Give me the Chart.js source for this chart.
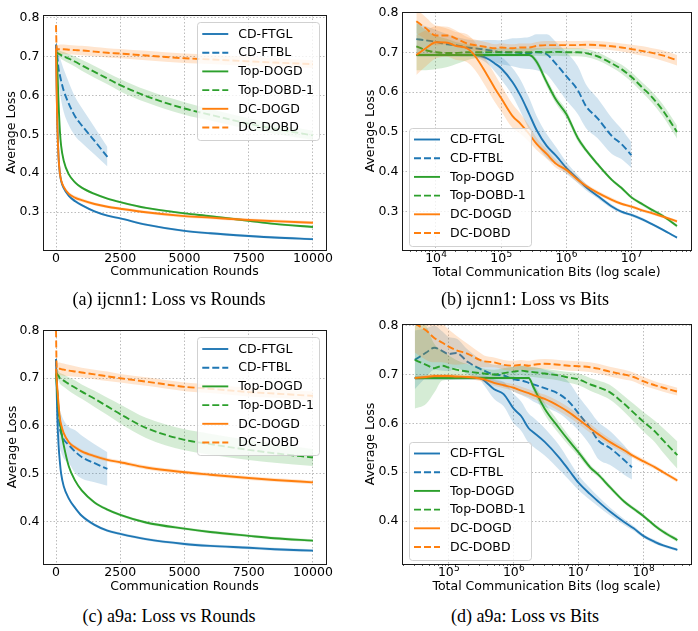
<!DOCTYPE html>
<html>
<head>
<meta charset="utf-8">
<script src="https://cdn.jsdelivr.net/npm/chart.js@4.4.0/dist/chart.umd.min.js"></script>
<style>
body{margin:0;background:#fff;width:698px;height:631px;position:relative;overflow:hidden;}
canvas{position:absolute;}
.cap{position:absolute;width:300px;text-align:center;font-family:'Liberation Serif','Times New Roman',serif;font-size:18px;line-height:20px;color:#000;}
</style>
</head>
<body>
<canvas id="cA" width="345" height="290" style="left:0;top:0"></canvas>
<canvas id="cB" width="353" height="290" style="left:345px;top:0"></canvas>
<canvas id="cC" width="345" height="300" style="left:0;top:300px"></canvas>
<canvas id="cD" width="353" height="300" style="left:345px;top:300px"></canvas>
<div class="cap" style="left:19px;top:289px">(a) ijcnn1: Loss vs Rounds</div>
<div class="cap" style="left:375px;top:289px">(b) ijcnn1: Loss vs Bits</div>
<div class="cap" style="left:19px;top:606px">(c) a9a: Loss vs Rounds</div>
<div class="cap" style="left:375px;top:606px">(d) a9a: Loss vs Bits</div>
<script>
// ---- series names / tick labels ----
const SERIES = ['CD-FTGL', 'CD-FTBL', 'Top-DOGD', 'Top-DOBD-1', 'DC-DOGD', 'DC-DOBD'];
const roundTicks = [0, 2500, 5000, 7500, 10000];
const lossTicksIjcnn = [0.3, 0.4, 0.5, 0.6, 0.7, 0.8];
const lossTicksA9a = [0.4, 0.5, 0.6, 0.7, 0.8];

// ---- rounds axis (panels a, c) ----
const roundsX = [0, 25, 50, 100, 150, 200, 300, 500, 750, 1000, 1500, 2000, 2500, 3500, 5000, 6000, 7500, 8500, 10000];

// (a) ijcnn1, loss vs rounds
const aFtgl      = [0.73, 0.62, 0.53, 0.44, 0.40, 0.38, 0.362, 0.342, 0.328, 0.318, 0.302, 0.291, 0.284, 0.268, 0.252, 0.246, 0.239, 0.235, 0.231];
const aFtglBand  = [0.01, 0.01, 0.008, 0.006, 0.005, 0.005, 0.004, 0.004, 0.004, 0.003, 0.003, 0.003, 0.003, 0.003, 0.003, 0.003, 0.003, 0.003, 0.003];
const aFtbl      = [0.73, 0.715, 0.70, 0.668, 0.652, 0.637, 0.612, 0.578, 0.545, 0.523, 0.483, 0.442];
const aFtblBand  = [0.01, 0.02, 0.03, 0.04, 0.045, 0.05, 0.055, 0.055, 0.05, 0.045, 0.035, 0.025];
const aTopOgd    = [0.71, 0.70, 0.67, 0.58, 0.51, 0.47, 0.432, 0.397, 0.376, 0.363, 0.347, 0.335, 0.326, 0.311, 0.297, 0.290, 0.278, 0.270, 0.262];
const aTopOgdBand= [0.005, 0.005, 0.005, 0.005, 0.004, 0.004, 0.004, 0.003, 0.003, 0.003, 0.003, 0.003, 0.003, 0.003, 0.003, 0.003, 0.003, 0.003, 0.003];
const aTopObd    = [0.71, 0.71, 0.709, 0.707, 0.705, 0.703, 0.70, 0.694, 0.686, 0.677, 0.66, 0.643, 0.626, 0.598, 0.566, 0.55, 0.527, 0.514, 0.497];
const aTopObdBand= [0.005, 0.006, 0.007, 0.008, 0.009, 0.01, 0.011, 0.012, 0.013, 0.014, 0.015, 0.015, 0.016, 0.016, 0.016, 0.015, 0.014, 0.013, 0.012];
const aDcOgd     = [0.72, 0.61, 0.53, 0.44, 0.40, 0.382, 0.365, 0.347, 0.337, 0.331, 0.321, 0.314, 0.309, 0.300, 0.290, 0.286, 0.280, 0.277, 0.273];
const aDcOgdBand = [0.01, 0.01, 0.008, 0.006, 0.005, 0.005, 0.005, 0.005, 0.005, 0.005, 0.004, 0.004, 0.004, 0.004, 0.004, 0.004, 0.004, 0.004, 0.004];
const aDcObd     = [0.78, 0.72, 0.718, 0.718, 0.718, 0.718, 0.718, 0.717, 0.716, 0.715, 0.712, 0.709, 0.707, 0.702, 0.695, 0.692, 0.687, 0.684, 0.68];
const aDcObdBand = [0.01, 0.01, 0.01, 0.011, 0.012, 0.012, 0.012, 0.012, 0.012, 0.012, 0.012, 0.012, 0.012, 0.012, 0.012, 0.012, 0.012, 0.011, 0.01];

// (c) a9a, loss vs rounds
const cFtgl      = [0.74, 0.68, 0.62, 0.56, 0.525, 0.50, 0.474, 0.448, 0.428, 0.412, 0.393, 0.381, 0.374, 0.363, 0.353, 0.349, 0.345, 0.342, 0.339];
const cFtglBand  = [0.01, 0.01, 0.008, 0.006, 0.005, 0.005, 0.004, 0.004, 0.003, 0.003, 0.003, 0.003, 0.003, 0.003, 0.003, 0.003, 0.003, 0.003, 0.003];
const cFtbl      = [0.74, 0.70, 0.67, 0.625, 0.595, 0.585, 0.572, 0.56, 0.546, 0.535, 0.522, 0.51];
const cFtblBand  = [0.02, 0.03, 0.035, 0.04, 0.04, 0.04, 0.04, 0.038, 0.045, 0.045, 0.04, 0.035];
const cTopOgd    = [0.71, 0.69, 0.67, 0.635, 0.61, 0.59, 0.56, 0.515, 0.485, 0.465, 0.44, 0.425, 0.414, 0.398, 0.385, 0.378, 0.370, 0.365, 0.360];
const cTopOgdBand= [0.005, 0.005, 0.005, 0.005, 0.004, 0.004, 0.004, 0.004, 0.003, 0.003, 0.003, 0.003, 0.003, 0.003, 0.003, 0.003, 0.003, 0.003, 0.003];
const cTopObd    = [0.71, 0.71, 0.708, 0.705, 0.70, 0.698, 0.695, 0.688, 0.68, 0.672, 0.657, 0.641, 0.625, 0.596, 0.571, 0.562, 0.55, 0.543, 0.534];
const cTopObdBand= [0.006, 0.008, 0.01, 0.01, 0.011, 0.012, 0.013, 0.014, 0.015, 0.015, 0.017, 0.018, 0.02, 0.021, 0.022, 0.022, 0.021, 0.02, 0.018];
const cDcOgd     = [0.72, 0.70, 0.68, 0.645, 0.617, 0.603, 0.585, 0.566, 0.555, 0.547, 0.537, 0.529, 0.524, 0.513, 0.503, 0.498, 0.491, 0.487, 0.482];
const cDcOgdBand = [0.008, 0.008, 0.007, 0.006, 0.005, 0.005, 0.004, 0.004, 0.004, 0.004, 0.004, 0.004, 0.004, 0.004, 0.004, 0.004, 0.004, 0.004, 0.004];
const cDcObd     = [0.80, 0.725, 0.72, 0.72, 0.72, 0.719, 0.718, 0.716, 0.714, 0.712, 0.708, 0.704, 0.70, 0.693, 0.682, 0.678, 0.671, 0.668, 0.663];
const cDcObdBand = [0.01, 0.01, 0.012, 0.013, 0.013, 0.013, 0.013, 0.012, 0.011, 0.01, 0.01, 0.01, 0.009, 0.009, 0.009, 0.009, 0.009, 0.009, 0.009];

// (b) ijcnn1, loss vs total bits
const bBits = [5e3, 7e3, 1e4, 1.5e4, 2e4, 3e4, 4e4, 6e4, 8e4, 1e5, 1.5e5, 2e5, 2.7e5, 3.5e5, 5e5, 7e5, 1e6, 1.5e6, 2e6, 3e6, 5e6, 7e6, 1e7, 1.5e7, 2e7, 3e7, 5e7];
const bFtgl      = [0.693, 0.693, 0.693, 0.693, 0.693, 0.693, 0.693, 0.685, 0.672, 0.66, 0.625, 0.59, 0.545, 0.505, 0.465, 0.44, 0.41, 0.382, 0.362, 0.34, 0.313, 0.30, 0.292, 0.28, 0.27, 0.255, 0.235];
const bFtglBand  = [0.004, 0.004, 0.004, 0.004, 0.004, 0.005, 0.006, 0.012, 0.02, 0.028, 0.035, 0.04, 0.04, 0.035, 0.03, 0.022, 0.015, 0.01, 0.008, 0.006, 0.005, 0.004, 0.004, 0.004, 0.003, 0.003, 0.003];
const bFtbl      = [0.733, 0.73, 0.726, 0.72, 0.718, 0.712, 0.71, 0.706, 0.703, 0.70, 0.70, 0.698, 0.698, 0.70, 0.695, 0.67, 0.64, 0.605, 0.565, 0.535, 0.49, 0.47, 0.442];
const bFtblBand  = [0.04, 0.035, 0.03, 0.025, 0.02, 0.02, 0.02, 0.025, 0.028, 0.03, 0.035, 0.038, 0.04, 0.045, 0.05, 0.055, 0.06, 0.06, 0.055, 0.05, 0.045, 0.038, 0.032];
const bTopOgd    = [0.693, 0.693, 0.693, 0.693, 0.693, 0.693, 0.693, 0.693, 0.693, 0.693, 0.693, 0.693, 0.693, 0.676, 0.625, 0.58, 0.545, 0.485, 0.455, 0.42, 0.38, 0.36, 0.336, 0.318, 0.306, 0.29, 0.264];
const bTopOgdBand= [0.003, 0.003, 0.003, 0.003, 0.003, 0.003, 0.003, 0.003, 0.003, 0.003, 0.003, 0.003, 0.003, 0.008, 0.01, 0.01, 0.01, 0.008, 0.006, 0.005, 0.004, 0.004, 0.004, 0.004, 0.004, 0.004, 0.004];
const bTopObd    = [0.715, 0.705, 0.70, 0.698, 0.698, 0.70, 0.70, 0.70, 0.70, 0.70, 0.70, 0.70, 0.70, 0.701, 0.70, 0.701, 0.70, 0.70, 0.698, 0.69, 0.672, 0.658, 0.638, 0.61, 0.59, 0.555, 0.50];
const bTopObdBand= [0.06, 0.05, 0.042, 0.035, 0.028, 0.02, 0.015, 0.012, 0.01, 0.01, 0.01, 0.01, 0.01, 0.01, 0.01, 0.01, 0.01, 0.01, 0.01, 0.01, 0.01, 0.011, 0.012, 0.013, 0.014, 0.015, 0.016];
const bDcOgd     = [0.693, 0.71, 0.725, 0.724, 0.716, 0.71, 0.69, 0.645, 0.61, 0.585, 0.54, 0.52, 0.495, 0.47, 0.445, 0.42, 0.405, 0.38, 0.365, 0.348, 0.33, 0.32, 0.313, 0.303, 0.297, 0.288, 0.276];
const bDcOgdBand = [0.05, 0.045, 0.04, 0.035, 0.035, 0.035, 0.035, 0.035, 0.035, 0.033, 0.03, 0.025, 0.02, 0.015, 0.012, 0.01, 0.008, 0.007, 0.006, 0.005, 0.005, 0.004, 0.004, 0.004, 0.004, 0.004, 0.004];
const bDcObd     = [0.778, 0.76, 0.742, 0.742, 0.735, 0.722, 0.718, 0.713, 0.71, 0.712, 0.71, 0.712, 0.712, 0.716, 0.718, 0.718, 0.718, 0.718, 0.719, 0.718, 0.715, 0.712, 0.708, 0.703, 0.699, 0.692, 0.68];
const bDcObdBand = [0.03, 0.028, 0.025, 0.022, 0.02, 0.016, 0.014, 0.012, 0.01, 0.01, 0.01, 0.01, 0.01, 0.01, 0.01, 0.01, 0.01, 0.01, 0.01, 0.01, 0.01, 0.01, 0.011, 0.012, 0.012, 0.013, 0.013];

// (d) a9a, loss vs total bits
const dBits = [3e4, 4.5e4, 6e4, 8e4, 1e5, 1.3e5, 2e5, 3e5, 3.5e5, 5e5, 7e5, 1e6, 1.3e6, 1.7e6, 2e6, 3e6, 5e6, 7e6, 1e7, 1.5e7, 2e7, 3e7, 5e7, 7e7, 1e8, 1.5e8, 2e8, 3.3e8];
const dFtblBits = [3e4, 4.5e4, 6e4, 8e4, 1e5, 1.3e5, 2e5, 3e5, 3.5e5, 5e5, 7e5, 1e6, 1.3e6, 1.7e6, 2e6, 3e6, 5e6, 7e6, 1e7, 1.5e7, 2e7, 3e7, 5e7, 6.6e7];
const dFtgl      = [0.693, 0.693, 0.693, 0.693, 0.693, 0.693, 0.693, 0.693, 0.688, 0.67, 0.66, 0.63, 0.615, 0.59, 0.582, 0.562, 0.53, 0.505, 0.478, 0.455, 0.44, 0.42, 0.398, 0.385, 0.369, 0.357, 0.35, 0.341];
const dFtglBand  = [0.004, 0.004, 0.004, 0.004, 0.004, 0.004, 0.004, 0.004, 0.01, 0.02, 0.025, 0.03, 0.03, 0.03, 0.03, 0.028, 0.025, 0.02, 0.015, 0.012, 0.01, 0.008, 0.006, 0.005, 0.004, 0.004, 0.003, 0.003];
const dFtbl      = [0.73, 0.745, 0.755, 0.748, 0.742, 0.744, 0.725, 0.712, 0.708, 0.70, 0.698, 0.69, 0.688, 0.683, 0.68, 0.672, 0.66, 0.645, 0.62, 0.59, 0.565, 0.55, 0.525, 0.51];
const dFtblBand  = [0.06, 0.05, 0.045, 0.04, 0.035, 0.03, 0.025, 0.02, 0.02, 0.02, 0.022, 0.025, 0.03, 0.032, 0.035, 0.038, 0.04, 0.04, 0.035, 0.035, 0.038, 0.035, 0.03, 0.025];
const dTopOgd    = [0.693, 0.693, 0.693, 0.693, 0.693, 0.693, 0.693, 0.693, 0.693, 0.693, 0.693, 0.693, 0.693, 0.693, 0.675, 0.63, 0.59, 0.565, 0.54, 0.51, 0.495, 0.47, 0.44, 0.425, 0.41, 0.39, 0.378, 0.361];
const dTopOgdBand= [0.003, 0.003, 0.003, 0.003, 0.003, 0.003, 0.003, 0.003, 0.003, 0.003, 0.003, 0.003, 0.003, 0.003, 0.008, 0.012, 0.012, 0.01, 0.008, 0.006, 0.005, 0.005, 0.004, 0.004, 0.004, 0.004, 0.004, 0.004];
const dTopObd    = [0.73, 0.72, 0.713, 0.718, 0.714, 0.71, 0.706, 0.703, 0.702, 0.70, 0.703, 0.706, 0.708, 0.706, 0.705, 0.702, 0.698, 0.694, 0.69, 0.68, 0.674, 0.664, 0.64, 0.622, 0.603, 0.583, 0.565, 0.535];
const dTopObdBand= [0.1, 0.08, 0.05, 0.03, 0.025, 0.02, 0.015, 0.012, 0.01, 0.01, 0.01, 0.01, 0.01, 0.01, 0.01, 0.01, 0.01, 0.011, 0.012, 0.013, 0.014, 0.015, 0.016, 0.018, 0.02, 0.022, 0.025, 0.028];
const dDcOgd     = [0.693, 0.695, 0.697, 0.697, 0.697, 0.696, 0.695, 0.692, 0.69, 0.683, 0.678, 0.673, 0.667, 0.662, 0.658, 0.65, 0.635, 0.623, 0.608, 0.59, 0.578, 0.562, 0.545, 0.533, 0.522, 0.51, 0.50, 0.483];
const dDcOgdBand = [0.004, 0.004, 0.004, 0.004, 0.004, 0.004, 0.004, 0.005, 0.005, 0.006, 0.006, 0.007, 0.008, 0.008, 0.008, 0.009, 0.01, 0.01, 0.01, 0.009, 0.008, 0.007, 0.006, 0.005, 0.005, 0.004, 0.004, 0.004];
const dDcObd     = [0.805, 0.79, 0.775, 0.765, 0.757, 0.75, 0.742, 0.73, 0.727, 0.725, 0.72, 0.718, 0.72, 0.718, 0.72, 0.722, 0.72, 0.718, 0.717, 0.715, 0.712, 0.706, 0.70, 0.695, 0.686, 0.678, 0.673, 0.665];
const dDcObdBand = [0.06, 0.06, 0.05, 0.04, 0.035, 0.03, 0.02, 0.015, 0.012, 0.01, 0.01, 0.01, 0.01, 0.01, 0.01, 0.01, 0.01, 0.01, 0.01, 0.01, 0.01, 0.01, 0.01, 0.009, 0.009, 0.008, 0.008, 0.008];

// ---- styles ----
const LINE = ['#1f77b4', '#1f77b4', '#2ca02c', '#2ca02c', '#ff7f0e', '#ff7f0e'];
const BAND = ['rgba(31,119,180,0.2)', 'rgba(31,119,180,0.2)', 'rgba(44,160,44,0.2)', 'rgba(44,160,44,0.2)', 'rgba(255,127,14,0.2)', 'rgba(255,127,14,0.2)'];
const DASH = [false, true, false, true, false, true];
const GRID = '#b4b4b4';
const FONT = "'DejaVu Sans', sans-serif";

Chart.defaults.font.family = FONT;
Chart.defaults.color = '#000';

function buildSets(xs, ys, bands) {
    const sets = [];
    for (let i = 0; i < SERIES.length; i++) {
        const x = xs[i], y = ys[i], b = bands[i];
        const order = (SERIES.length - i) * 10;
        const pts = off => y.map((v, k) => ({x: x[k], y: v + off * b[k]}));
        const common = {pointRadius: 0, cubicInterpolationMode: 'monotone'};
        sets.push(Object.assign({}, common, {data: pts(1), borderWidth: 0, fill: false, order: order + 1}));
        sets.push(Object.assign({}, common, {data: pts(-1), borderWidth: 0, fill: '-1', backgroundColor: BAND[i], order: order + 1}));
        sets.push(Object.assign({}, common, {
            label: SERIES[i], data: pts(0), borderColor: LINE[i], borderWidth: 1.9,
            borderDash: DASH[i] ? [7, 3] : [], fill: false, order: order
        }));
    }
    return sets;
}

// box around the plot area
const frame = {
    id: 'frame',
    afterDatasetsDraw(chart) {
        const {ctx, chartArea: a} = chart;
        ctx.save();
        ctx.strokeStyle = '#1a1a1a';
        ctx.lineWidth = 1;
        ctx.strokeRect(Math.round(a.left) + 0.5, Math.round(a.top) + 0.5, Math.round(a.right - a.left), Math.round(a.bottom - a.top));
        ctx.restore();
    }
};

// "10^n" labels for the log axis, exponent raised like matplotlib mathtext
const powLabels = {
    id: 'powLabels',
    afterDraw(chart) {
        const s = chart.scales.x;
        if (s.type !== 'logarithmic') return;
        const ctx = chart.ctx;
        ctx.save();
        ctx.fillStyle = '#000';
        ctx.textBaseline = 'alphabetic';
        ctx.textAlign = 'left';
        s.ticks.forEach(t => {
            if (!isPow10(t.value)) return;
            const px = s.getPixelForValue(t.value);
            const exp = String(Math.round(Math.log10(t.value)));
            ctx.font = '12.5px ' + FONT;
            const w1 = ctx.measureText('10').width;
            ctx.font = '9px ' + FONT;
            const w2 = ctx.measureText(exp).width;
            const x0 = px - (w1 + w2) / 2;
            const base = chart.chartArea.bottom + 12;
            ctx.font = '12.5px ' + FONT;
            ctx.fillText('10', x0, base);
            ctx.font = '9px ' + FONT;
            ctx.fillText(exp, x0 + w1 + 0.3, base - 5);
        });
        ctx.restore();
    }
};

// legend drawn inside the plot area (matplotlib style)
const insideLegend = {
    id: 'insideLegend',
    afterDraw(chart, args, opts) {
        const {ctx, chartArea: a} = chart;
        const items = chart.data.datasets.filter(d => d.label);
        ctx.save();
        ctx.font = '12.5px ' + FONT;
        const textW = Math.max(...items.map(d => ctx.measureText(d.label).width));
        const rowH = 18.7;
        const w = 41 + textW + 5, h = 24 + rowH * (items.length - 1);
        const x = opts.corner === 'tr' ? a.right - 7 - w : a.left + 7;
        const y = opts.corner === 'tr' ? a.top + 7 : a.bottom - 5 - h;
        ctx.beginPath();
        if (ctx.roundRect) ctx.roundRect(Math.round(x) + 0.5, Math.round(y) + 0.5, Math.round(w), Math.round(h), 3);
        else ctx.rect(Math.round(x) + 0.5, Math.round(y) + 0.5, Math.round(w), Math.round(h));
        ctx.fillStyle = 'rgba(255,255,255,0.8)';
        ctx.fill();
        ctx.strokeStyle = 'rgba(204,204,204,0.9)';
        ctx.lineWidth = 1;
        ctx.stroke();
        items.forEach((d, i) => {
            const cy = y + 12 + i * rowH;
            ctx.beginPath();
            ctx.setLineDash(d.borderDash);
            ctx.strokeStyle = d.borderColor;
            ctx.lineWidth = d.borderWidth;
            ctx.moveTo(x + 5, cy);
            ctx.lineTo(x + 31, cy);
            ctx.stroke();
            ctx.setLineDash([]);
            ctx.fillStyle = '#000';
            ctx.textBaseline = 'middle';
            ctx.textAlign = 'left';
            ctx.fillText(d.label, x + 41, cy + 0.5);
        });
        ctx.restore();
    }
};

function isPow10(v) {
    const e = Math.round(Math.log10(v));
    return Math.abs(v - Math.pow(10, e)) < 1e-6 * v;
}

function roundsAxis(box) {
    return {
        type: 'linear', min: -506, max: 10506,
        afterBuildTicks: s => { s.ticks = roundTicks.map(v => ({value: v})); },
        ticks: {autoSkip: false, maxRotation: 0, padding: 1.5, font: {size: 12.5}, callback: v => String(v)},
        grid: {color: GRID, lineWidth: 0.9, drawTicks: false},
        border: {display: false, dash: [1.5, 2]},
        title: {display: true, text: 'Communication Rounds', font: {size: 12.5},
                padding: {top: 0, bottom: box.top + box.h - box.xTitleY - 7.5}},
        afterFit: s => { s.height = box.top + box.h - box.plotB; }
    };
}

function bitsAxis(box, min, max) {
    return {
        type: 'logarithmic', min: min, max: max,
        afterBuildTicks: s => {
            const t = [];
            for (let e = 3; e <= 9; e++) {
                for (let k = 1; k < 10; k++) {
                    const v = k * Math.pow(10, e);
                    if (v >= s.min && v <= s.max) t.push({value: v, major: k === 1});
                }
            }
            s.ticks = t;
        },
        ticks: {autoSkip: false, maxRotation: 0, padding: 0, font: {size: 12.5}, callback: () => ''},
        grid: {
            color: c => (c.tick && isPow10(c.tick.value)) ? GRID : 'rgba(0,0,0,0)',
            lineWidth: 0.9, drawTicks: true, tickLength: 2,
            tickColor: '#333', tickWidth: 0.8
        },
        border: {display: false, dash: [1.5, 2]},
        title: {display: true, text: 'Total Communication Bits (log scale)', font: {size: 12.5},
                padding: {top: 0, bottom: box.top + box.h - box.xTitleY - 7.5}},
        afterFit: s => { s.height = box.top + box.h - box.plotB; }
    };
}

function lossAxis(box, min, max, tickVals) {
    return {
        type: 'linear', min: min, max: max,
        afterBuildTicks: s => { s.ticks = tickVals.map(v => ({value: v})); },
        ticks: {padding: 3.5, font: {size: 12.5}, callback: v => v.toFixed(1)},
        grid: {color: GRID, lineWidth: 0.9, drawTicks: false},
        border: {display: false, dash: [1.5, 2]},
        title: {display: true, text: 'Average Loss', font: {size: 12.5},
                padding: {top: box.yTitleX - box.left - 7.5, bottom: 0}},
        afterFit: s => { s.width = box.plotL - box.left; }
    };
}

function makeChart(id, box, xAxis, yAxis, sets, corner) {
    new Chart(document.getElementById(id), {
        type: 'line',
        data: {datasets: sets},
        options: {
            responsive: false,
            animation: false,
            devicePixelRatio: 1,
            layout: {padding: {left: 0, top: box.plotT - box.top, right: box.left + box.w - box.plotR, bottom: 0}},
            plugins: {legend: {display: false}, tooltip: {enabled: false}, insideLegend: {corner: corner}},
            scales: {x: xAxis, y: yAxis}
        },
        plugins: [frame, powLabels, insideLegend]
    });
}

const boxA = {left: 0, top: 0, w: 345, h: 290, plotL: 43, plotT: 15, plotR: 326, plotB: 250, yTitleX: 12, xTitleY: 272};
const boxB = {left: 345, top: 0, w: 353, h: 290, plotL: 402, plotT: 12, plotR: 691, plotB: 250, yTitleX: 371, xTitleY: 273};
const boxC = {left: 0, top: 300, w: 345, h: 300, plotL: 43, plotT: 330, plotR: 326, plotB: 564, yTitleX: 12.5, xTitleY: 586.5};
const boxD = {left: 345, top: 300, w: 353, h: 300, plotL: 402, plotT: 324, plotR: 691, plotB: 564, yTitleX: 370.5, xTitleY: 586.5};

const R = roundsX;
makeChart('cA', boxA, roundsAxis(boxA), lossAxis(boxA, 0.203, 0.806, lossTicksIjcnn),
    buildSets([R, R, R, R, R, R],
              [aFtgl, aFtbl, aTopOgd, aTopObd, aDcOgd, aDcObd],
              [aFtglBand, aFtblBand, aTopOgdBand, aTopObdBand, aDcOgdBand, aDcObdBand]), 'tr');

makeChart('cB', boxB, bitsAxis(boxB, 3013, 8.2e7), lossAxis(boxB, 0.204, 0.801, lossTicksIjcnn),
    buildSets([bBits, bBits, bBits, bBits, bBits, bBits],
              [bFtgl, bFtbl, bTopOgd, bTopObd, bDcOgd, bDcObd],
              [bFtglBand, bFtblBand, bTopOgdBand, bTopObdBand, bDcOgdBand, bDcObdBand]), 'bl');

makeChart('cC', boxC, roundsAxis(boxC), lossAxis(boxC, 0.311, 0.801, lossTicksA9a),
    buildSets([R, R, R, R, R, R],
              [cFtgl, cFtbl, cTopOgd, cTopObd, cDcOgd, cDcObd],
              [cFtglBand, cFtblBand, cTopOgdBand, cTopObdBand, cDcOgdBand, cDcObdBand]), 'tr');

makeChart('cD', boxD, bitsAxis(boxD, 1.91e4, 5.35e8), lossAxis(boxD, 0.312, 0.8035, lossTicksA9a),
    buildSets([dBits, dFtblBits, dBits, dBits, dBits, dBits],
              [dFtgl, dFtbl, dTopOgd, dTopObd, dDcOgd, dDcObd],
              [dFtglBand, dFtblBand, dTopOgdBand, dTopObdBand, dDcOgdBand, dDcObdBand]), 'bl');
</script>
</body>
</html>
